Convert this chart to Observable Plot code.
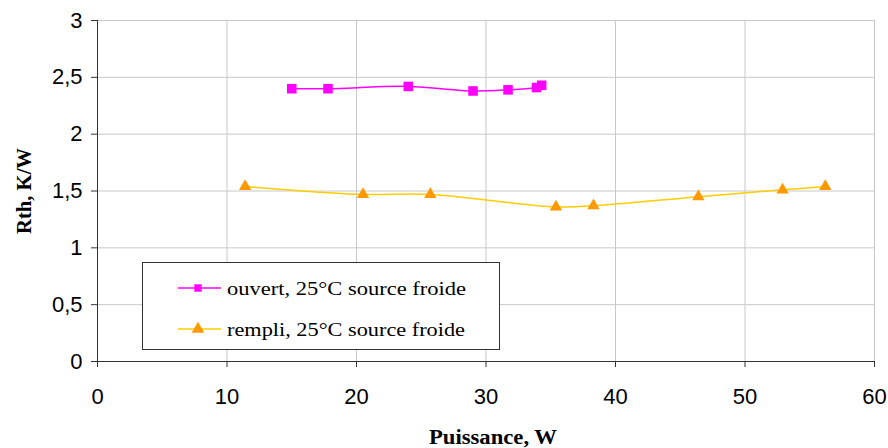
<!DOCTYPE html>
<html>
<head>
<meta charset="utf-8">
<script src="https://cdn.jsdelivr.net/npm/d3@7"></script>
<script src="https://cdn.jsdelivr.net/npm/@observablehq/plot@0.6"></script>
<style>
  html, body { margin: 0; padding: 0; background: #fff; }
  #chart { width: 888px; height: 448px; }
</style>
</head>
<body>
<div id="chart"></div>
<script>
// Series: ouvert, 25°C source froide
const ouvertX = [15.0, 17.8, 24.0, 29.0, 31.7, 33.9, 34.3];
const ouvertY = [2.40, 2.40, 2.42, 2.38, 2.39, 2.41, 2.43];
// Series: rempli, 25°C source froide
const rempliX = [11.4, 20.5, 25.7, 35.4, 38.3, 46.4, 52.9, 56.2];
const rempliY = [1.54, 1.47, 1.47, 1.36, 1.37, 1.45, 1.51, 1.54];

const seriesNames = ["ouvert, 25°C source froide", "rempli, 25°C source froide"];
const xTicks = [0, 10, 20, 30, 40, 50, 60];
const yTicks = [0, 0.5, 1, 1.5, 2, 2.5, 3];
const xTitle = "Puissance, W";
const yTitle = "Rth, K/W";

const ouvert = ouvertX.map((x, i) => ({x, y: ouvertY[i]}));
const rempli = rempliX.map((x, i) => ({x, y: rempliY[i]}));

const fmt = d => String(d).replace(".", ",");

const chart = Plot.plot({
  width: 888,
  height: 448,
  marginLeft: 97,
  marginRight: 14,
  marginTop: 20,
  marginBottom: 87,
  style: {fontFamily: "'Liberation Sans', Arial, sans-serif", fontSize: "22px", background: "#fff"},
  x: {domain: [0, 60], ticks: xTicks},
  y: {domain: [0, 3], ticks: yTicks},
  marks: [
    Plot.gridX(xTicks.filter(d => d > 0), {stroke: "#c8c8c8", strokeOpacity: 1, strokeWidth: 1}),
    Plot.gridY(yTicks.filter(d => d > 0), {stroke: "#c8c8c8", strokeOpacity: 1, strokeWidth: 1}),
    Plot.ruleY([0], {stroke: "#333"}),
    Plot.ruleX([0], {stroke: "#333"}),
    Plot.axisX(xTicks, {tickSize: 6, tickPadding: 21, tickFormat: fmt, label: null, stroke: "#333"}),
    Plot.axisY(yTicks, {tickSize: 6, tickPadding: 9, tickFormat: fmt, label: null, stroke: "#333"}),
    Plot.line(rempli, {x: "x", y: "y", stroke: "#FFCC00", strokeWidth: 1.5, curve: "catmull-rom"}),
    Plot.dot(rempli, {x: "x", y: "y", symbol: "triangle", r: 4.6, fill: "#FF9900", stroke: "none"}),
    Plot.line(ouvert, {x: "x", y: "y", stroke: "#FF00FF", strokeWidth: 1.5, curve: "catmull-rom"}),
    Plot.dot(ouvert, {x: "x", y: "y", symbol: "square", r: 5.4, fill: "#FF00FF", stroke: "none"})
  ]
});

document.getElementById("chart").appendChild(chart);

const svg = d3.select(chart);
const serif = "'Liberation Serif', 'Times New Roman', serif";

// Axis titles
svg.append("text")
  .attr("x", 493).attr("y", 444)
  .attr("text-anchor", "middle")
  .attr("font-family", serif).attr("font-weight", "bold").attr("font-size", 20)
  .attr("textLength", 128).attr("lengthAdjust", "spacingAndGlyphs")
  .attr("fill", "#000")
  .text(xTitle);
svg.append("text")
  .attr("transform", "translate(31,191) rotate(-90)")
  .attr("text-anchor", "middle")
  .attr("font-family", serif).attr("font-weight", "bold").attr("font-size", 20)
  .attr("textLength", 86).attr("lengthAdjust", "spacingAndGlyphs")
  .attr("fill", "#000")
  .text(yTitle);

// Legend
const lg = svg.append("g");
lg.append("rect").attr("x", 142.5).attr("y", 262.5).attr("width", 357).attr("height", 87)
  .attr("fill", "#fff").attr("stroke", "#333").attr("stroke-width", 1);
const rows = [
  {name: seriesNames[0], line: "#FF00FF", fill: "#FF00FF", sym: d3.symbolSquare, size: 55, y: 288, len: 239},
  {name: seriesNames[1], line: "#FFCC00", fill: "#FF9900", sym: d3.symbolTriangle, size: 70, y: 329, len: 238}
];
rows.forEach(r => {
  lg.append("line").attr("x1", 178).attr("x2", 221).attr("y1", r.y).attr("y2", r.y)
    .attr("stroke", r.line).attr("stroke-width", 1.5);
  lg.append("path").attr("d", d3.symbol(r.sym, r.size)())
    .attr("transform", `translate(198,${r.y})`).attr("fill", r.fill);
  lg.append("text").attr("x", 227).attr("y", r.y).attr("dy", "0.35em")
    .attr("text-anchor", "start")
    .attr("font-family", serif).attr("font-size", 19).attr("fill", "#000")
    .attr("textLength", r.len).attr("lengthAdjust", "spacingAndGlyphs")
    .text(r.name);
});
</script>
</body>
</html>
